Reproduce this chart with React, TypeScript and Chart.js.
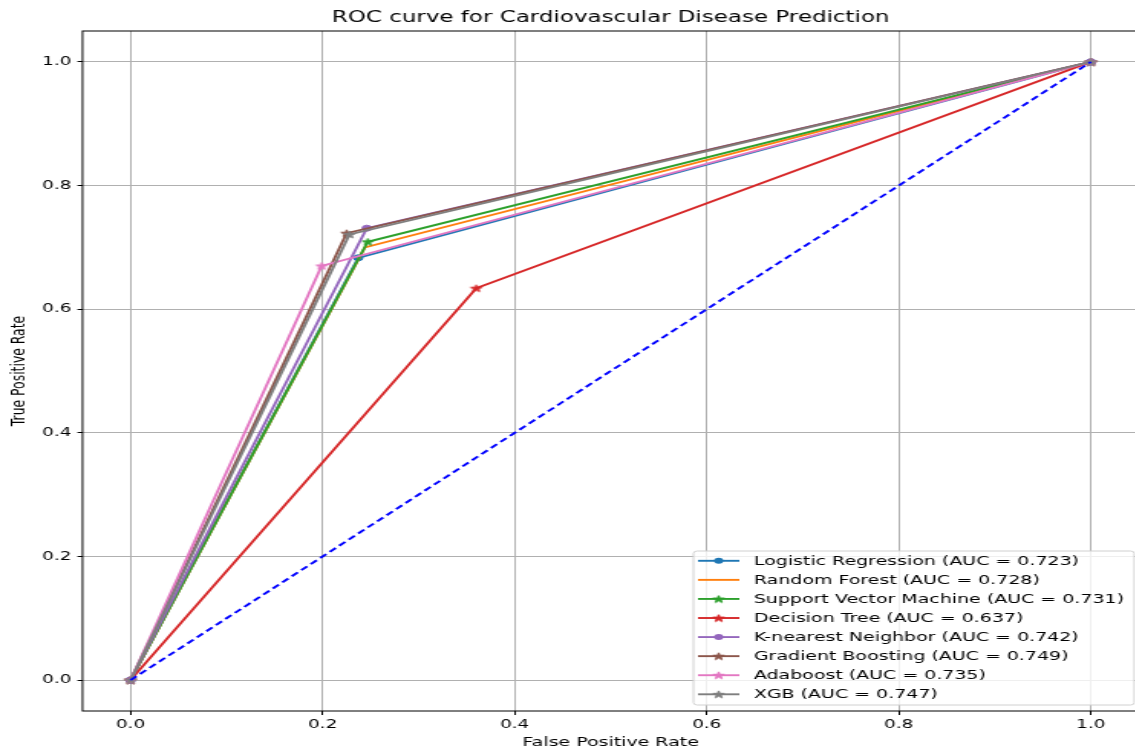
import React, { useEffect, useRef } from 'react';
import { Chart, registerables } from 'chart.js';

Chart.register(...registerables);

// ---- Data ----
const modelNames = [
  'Logistic Regression',
  'Random Forest',
  'Support Vector Machine',
  'Decision Tree',
  'K-nearest Neighbor',
  'Gradient Boosting',
  'Adaboost',
  'XGB',
];
const aucValues = ['0.723', '0.728', '0.731', '0.637', '0.742', '0.749', '0.735', '0.747'];
const seriesColors = ['#1f77b4', '#ff7f0e', '#2ca02c', '#d62728', '#9467bd', '#8c564b', '#e377c2', '#7f7f7f'];
const seriesMarkers = ['o', '', '*', '*', 'o', '*', '*', '*'];

const fprLR = [0, 0.237, 1];
const tprLR = [0, 0.683, 1];
const fprRF = [0, 0.244, 1];
const tprRF = [0, 0.7, 1];
const fprSVM = [0, 0.247, 1];
const tprSVM = [0, 0.709, 1];
const fprDT = [0, 0.36, 1];
const tprDT = [0, 0.634, 1];
const fprKNN = [0, 0.246, 1];
const tprKNN = [0, 0.731, 1];
const fprGB = [0, 0.225, 1];
const tprGB = [0, 0.723, 1];
const fprAda = [0, 0.199, 1];
const tprAda = [0, 0.67, 1];
const fprXGB = [0, 0.228, 1];
const tprXGB = [0, 0.721, 1];

const fprList = [fprLR, fprRF, fprSVM, fprDT, fprKNN, fprGB, fprAda, fprXGB];
const tprList = [tprLR, tprRF, tprSVM, tprDT, tprKNN, tprGB, tprAda, tprXGB];

const chanceX = [0, 1];
const chanceY = [0, 1];

const tickValues = [0, 0.2, 0.4, 0.6, 0.8, 1.0];

const titleText = 'ROC curve for Cardiovascular Disease Prediction';
const xLabel = 'False Positive Rate';
const yLabel = 'True Positive Rate';

// ---- Rendering helpers ----
const STRETCH = 1.531; // the reference is horizontally stretched
const INNER_W = 748;
const INNER_H = 752;
const LABEL_SIZE = 12.4;
const Y_AXIS_W = 53.9;

function makeStar(color: string): HTMLCanvasElement {
  const c = document.createElement('canvas');
  const size = 11;
  c.width = size;
  c.height = size;
  const g = c.getContext('2d')!;
  const cx = size / 2;
  const cy = size / 2 + 0.4;
  const R = 3.9;
  const r = R * 0.382;
  g.beginPath();
  for (let k = 0; k < 10; k++) {
    const ang = -Math.PI / 2 + (k * Math.PI) / 5;
    const rad = k % 2 === 0 ? R : r;
    const px = cx + rad * Math.cos(ang);
    const py = cy + rad * Math.sin(ang);
    if (k === 0) g.moveTo(px, py);
    else g.lineTo(px, py);
  }
  g.closePath();
  g.fillStyle = color;
  g.fill();
  g.strokeStyle = color;
  g.lineWidth = 1;
  g.lineJoin = 'round';
  g.stroke();
  return c;
}

export default function App() {
  const canvasRef = useRef<HTMLCanvasElement | null>(null);

  useEffect(() => {
    const canvas = canvasRef.current;
    if (!canvas) return;
    const stars = seriesColors.map((c) => makeStar(c));

    const datasets: any[] = modelNames.map((name, i) => ({
      label: `${name} (AUC = ${aucValues[i]})`,
      data: fprList[i].map((x, j) => ({ x, y: tprList[i][j] })),
      borderColor: seriesColors[i],
      backgroundColor: seriesColors[i],
      borderWidth: 1.9,
      showLine: true,
      tension: 0,
      fill: false,
      pointStyle: seriesMarkers[i] === '*' ? stars[i] : 'circle',
      pointRadius: seriesMarkers[i] === '' ? 0 : 3,
      pointBorderWidth: 1,
      pointHoverRadius: 0,
      order: 20 - i,
    }));
    datasets.push({
      label: 'chance',
      data: chanceX.map((x, j) => ({ x, y: chanceY[j] })),
      borderColor: '#0000ff',
      backgroundColor: '#0000ff',
      borderWidth: 1.9,
      borderDash: [5.5, 3.2],
      showLine: true,
      pointRadius: 0,
      pointHoverRadius: 0,
      fill: false,
      order: 0,
    });

    const spinesPlugin = {
      id: 'spines',
      afterDatasetsDraw(chart: any) {
        const { ctx, chartArea: a } = chart;
        ctx.save();
        ctx.strokeStyle = '#000';
        ctx.lineWidth = 1;
        ctx.strokeRect(a.left, a.top, a.right - a.left, a.bottom - a.top);
        ctx.restore();
      },
    };

    const legendPlugin = {
      id: 'mplLegend',
      afterDraw(chart: any) {
        const { ctx, chartArea: a } = chart;
        const boxW = 288;
        const boxH = 154;
        const right = a.right - 3;
        const bottom = a.bottom - 6;
        const left = right - boxW;
        const top = bottom - boxH;
        ctx.save();
        ctx.beginPath();
        const rr = 2.5;
        ctx.moveTo(left + rr, top);
        ctx.lineTo(right - rr, top);
        ctx.quadraticCurveTo(right, top, right, top + rr);
        ctx.lineTo(right, bottom - rr);
        ctx.quadraticCurveTo(right, bottom, right - rr, bottom);
        ctx.lineTo(left + rr, bottom);
        ctx.quadraticCurveTo(left, bottom, left, bottom - rr);
        ctx.lineTo(left, top + rr);
        ctx.quadraticCurveTo(left, top, left + rr, top);
        ctx.closePath();
        ctx.fillStyle = 'rgba(255,255,255,0.8)';
        ctx.fill();
        ctx.strokeStyle = '#d0d0d0';
        ctx.lineWidth = 1;
        ctx.stroke();

        const step = 19.07;
        const firstY = top + 9.8;
        const lineX0 = left + 3;
        const lineX1 = left + 30;
        const textX = left + 39.5;
        ctx.font = `${LABEL_SIZE}px "DejaVu Sans"`;
        ctx.textBaseline = 'middle';
        ctx.textAlign = 'left';
        modelNames.forEach((name, i) => {
          const y = firstY + i * step;
          ctx.strokeStyle = seriesColors[i];
          ctx.lineWidth = 1.9;
          ctx.setLineDash([]);
          ctx.beginPath();
          ctx.moveTo(lineX0, y);
          ctx.lineTo(lineX1, y);
          ctx.stroke();
          const mx = (lineX0 + lineX1) / 2;
          if (seriesMarkers[i] === '*') {
            const img = stars[i];
            ctx.drawImage(img, mx - img.width / 2, y - img.height / 2);
          } else if (seriesMarkers[i] === 'o') {
            ctx.beginPath();
            ctx.arc(mx, y, 3, 0, Math.PI * 2);
            ctx.fillStyle = seriesColors[i];
            ctx.fill();
          }
          ctx.fillStyle = '#000';
          ctx.fillText(`${name} (AUC = ${aucValues[i]})`, textX, y + 0.5);
        });
        ctx.restore();
      },
    };

    const tickCb = (v: any) => Number(v).toFixed(1);

    const chart = new Chart(canvas, {
      type: 'scatter',
      data: { datasets },
      options: {
        responsive: false,
        devicePixelRatio: 1,
        animation: false,
        events: [],
        layout: { padding: 0 },
        font: { family: '"DejaVu Sans"' },
        plugins: {
          legend: { display: false },
          tooltip: { enabled: false },
          title: {
            display: true,
            text: titleText,
            color: '#000',
            fullSize: false,
            font: { family: '"DejaVu Sans"', size: 15, weight: 'normal' },
            padding: { top: 9, bottom: 4 },
          },
        },
        scales: {
          x: {
            type: 'linear',
            min: -0.05,
            max: 1.05,
            afterBuildTicks: (s: any) => {
              s.ticks = tickValues.map((v) => ({ value: v }));
            },
            afterFit: (s: any) => {
              s.height = INNER_H - 711;
              s.paddingLeft = 0;
              s.paddingRight = 0;
            },
            ticks: {
              callback: tickCb,
              color: '#000',
              font: { family: '"DejaVu Sans"', size: 12 },
              padding: 3,
              autoSkip: false,
              maxRotation: 0,
            },
            grid: {
              color: '#b0b0b0',
              lineWidth: 1,
              drawTicks: true,
              tickLength: 4,
              tickColor: '#000',
              tickWidth: 1,
            },
            border: { display: false },
            title: {
              display: true,
              text: xLabel,
              color: '#000',
              font: { family: '"DejaVu Sans"', size: LABEL_SIZE },
              padding: { top: 0, bottom: 2 },
            },
          },
          y: {
            type: 'linear',
            min: -0.05,
            max: 1.05,
            afterBuildTicks: (s: any) => {
              s.ticks = tickValues.map((v) => ({ value: v }));
            },
            afterFit: (s: any) => {
              s.width = Y_AXIS_W;
              s.paddingTop = 0;
              s.paddingBottom = 0;
            },
            ticks: {
              callback: tickCb,
              color: '#000',
              font: { family: '"DejaVu Sans"', size: 12 },
              padding: 4,
              autoSkip: false,
            },
            grid: {
              color: '#b0b0b0',
              lineWidth: 1,
              drawTicks: true,
              tickLength: 3.3,
              tickColor: '#000',
              tickWidth: 1,
            },
            border: { display: false },
            title: {
              display: true,
              text: yLabel,
              color: '#000',
              font: { family: '"DejaVu Sans"', size: LABEL_SIZE },
              padding: { top: 5.6, bottom: 0 },
            },
          },
        },
      } as any,
      plugins: [spinesPlugin, legendPlugin],
    });

    return () => {
      chart.destroy();
    };
  }, []);

  return (
    <div
      style={{
        position: 'fixed',
        left: 0,
        top: 0,
        width: 1135,
        height: 752,
        overflow: 'hidden',
        background: '#fff',
      }}
    >
      <canvas
        ref={canvasRef}
        width={INNER_W}
        height={INNER_H}
        style={{ width: `${INNER_W * STRETCH}px`, height: `${INNER_H}px`, display: 'block' }}
      />
    </div>
  );
}
